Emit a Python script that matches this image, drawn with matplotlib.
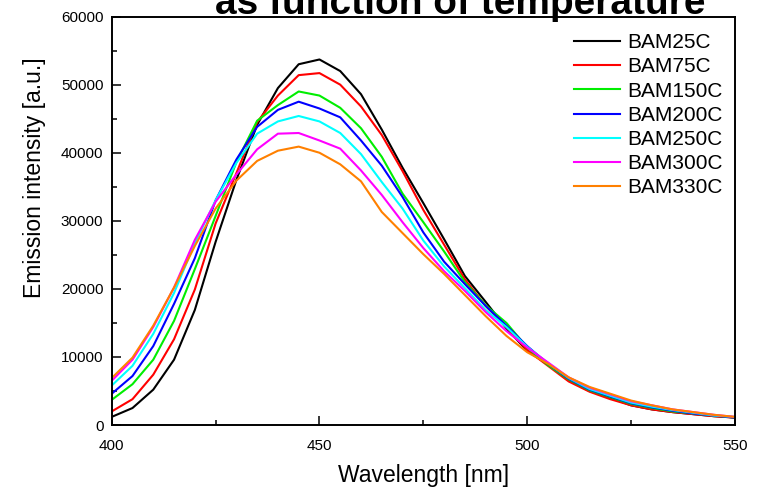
#BAM emission spectra at several temperatures
import matplotlib
matplotlib.use("Agg")
from matplotlib import pyplot as plt
from matplotlib.ticker import MultipleLocator

plt.rcParams['font.family'] = ['Liberation Sans', 'DejaVu Sans']

#data: wavelength [nm] and intensity in thousands [a.u.]
wavelength = [400, 405, 410, 415, 420, 425, 430, 435, 440, 445, 450, 455, 460, 465, 470, 475,
              480, 485, 490, 495, 500, 505, 510, 515, 520, 525, 530, 535, 540, 545, 550]

bam25 = [1.2, 2.5, 5.2, 9.6, 16.9, 26.9, 36.0, 44.1, 49.5, 53.0, 53.7, 52.0, 48.6, 43.4, 37.8, 32.6,
         27.3, 21.9, 18.1, 14.2, 10.9, 8.9, 6.6, 5.0, 4.0, 2.9, 2.3, 1.9, 1.6, 1.3, 1.1]
bam75 = [2.0, 3.8, 7.4, 12.6, 19.9, 29.6, 37.0, 44.5, 48.4, 51.4, 51.7, 50.0, 46.8, 42.6, 37.3, 31.6,
         26.5, 21.4, 17.5, 14.4, 11.0, 8.7, 6.4, 4.9, 3.8, 2.9, 2.3, 1.9, 1.6, 1.3, 1.1]
bam150 = [3.7, 6.0, 9.6, 15.3, 22.9, 30.7, 38.6, 44.7, 47.0, 49.0, 48.4, 46.6, 43.6, 39.4, 34.0, 29.8,
          25.5, 21.0, 17.6, 15.0, 11.4, 8.8, 6.7, 5.1, 4.1, 3.1, 2.5, 2.0, 1.7, 1.4, 1.1]
bam200 = [4.6, 7.2, 11.6, 17.8, 24.5, 33.0, 39.0, 43.8, 46.3, 47.5, 46.5, 45.2, 41.8, 38.1, 33.5, 28.3,
          24.0, 20.7, 17.5, 14.6, 11.6, 9.0, 6.8, 5.2, 4.2, 3.2, 2.6, 2.1, 1.7, 1.4, 1.1]
bam250 = [5.8, 8.7, 13.4, 19.4, 26.7, 33.0, 38.5, 42.8, 44.6, 45.4, 44.6, 42.9, 39.8, 35.7, 31.8, 27.1,
          23.3, 20.1, 16.9, 14.4, 11.5, 9.1, 6.9, 5.3, 4.3, 3.3, 2.7, 2.2, 1.8, 1.4, 1.2]
bam300 = [6.5, 9.6, 14.4, 20.2, 27.2, 32.8, 36.8, 40.5, 42.8, 42.9, 41.8, 40.6, 37.4, 33.8, 29.8, 26.0,
          22.6, 19.7, 16.6, 13.8, 11.4, 9.2, 7.0, 5.5, 4.5, 3.5, 2.9, 2.3, 1.9, 1.5, 1.2]
bam330 = [6.9, 9.9, 14.6, 20.2, 26.3, 31.8, 35.9, 38.8, 40.3, 40.9, 40.0, 38.3, 35.8, 31.3, 28.2, 25.1,
          22.2, 19.1, 16.0, 13.1, 10.7, 9.0, 7.0, 5.6, 4.6, 3.6, 2.9, 2.3, 1.9, 1.5, 1.2]

series = [bam25, bam75, bam150, bam200, bam250, bam300, bam330]
labels = ["BAM25C", "BAM75C", "BAM150C", "BAM200C", "BAM250C", "BAM300C", "BAM330C"]
colors = ["#000000", "#FF0000", "#00EE00", "#0000FF", "#00FFFF", "#FF00FF", "#FF8000"]

fig = plt.figure(figsize=(7.6, 4.88), dpi=100)
ax = fig.add_axes([0.147, 0.129, 0.82, 0.837])

for y, lab, c in zip(series, labels, colors):
    ax.plot(wavelength, [v * 1000 for v in y], color=c, lw=1.5, label=lab)

ax.set_xlim(400, 550)
ax.set_ylim(0, 60000)
ax.xaxis.set_major_locator(MultipleLocator(50))
ax.xaxis.set_minor_locator(MultipleLocator(25))
ax.yaxis.set_major_locator(MultipleLocator(10000))
ax.yaxis.set_minor_locator(MultipleLocator(5000))
ax.tick_params(which='both', direction='in', width=1.1, labelsize=11, top=False, right=False)
ax.tick_params(which='major', length=6.5)
ax.tick_params(axis='x', which='major', pad=10)
ax.tick_params(axis='y', which='major', pad=6)
ax.tick_params(which='minor', length=3.5)
for s in ax.spines.values():
    s.set_linewidth(1.4)

ax.set_xlabel("Wavelength [nm]", fontsize=16.5, labelpad=8)
ax.set_ylabel("Emission intensity [a.u.]", fontsize=16.5, labelpad=8)
ax.yaxis.set_label_coords(-0.105, 0.605)

ax.legend(loc='upper right', bbox_to_anchor=(1.0, 0.99), frameon=False, fontsize=15,
          handlelength=2.2, handletextpad=0.35, labelspacing=0.25, borderaxespad=0.2)

#title, only the second line is inside the picture
fig.text(0.605, 0.971, "as function of temperature", ha='center', va='baseline',
         fontsize=28, fontweight='bold')

plt.savefig("out.png")
